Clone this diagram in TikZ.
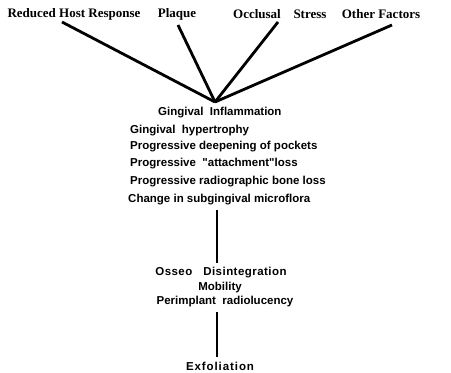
\documentclass[tikz,border=0pt]{standalone}
\usepackage{fontspec}
\setmainfont{Liberation Serif}
\newfontfamily\bodyfont{Liberation Sans}

\begin{document}
\begin{tikzpicture}[x=1pt,y=-1pt,
  cause/.style={font=\bfseries\fontsize{13}{15}\selectfont,inner sep=0pt},
  stage/.style={font=\bodyfont\bfseries\fontsize{11.5}{13}\selectfont,inner sep=0pt},
  item/.style={stage,anchor=west},
  spoke/.style={line width=2.8pt},
  stem/.style={line width=2.4pt}]
\useasboundingbox (0,0) rectangle (451,373);
% factors along the top
\node [cause] (host) at(74,14){Reduced Host Response};
\node [cause] (plaque) at(177,14){Plaque};
\node [cause] (occlusal) at(257,14){Occlusal};
\node [cause] (stress) at(310,14){Stress};
\node [cause] (other) at(381,14){Other Factors};
\coordinate (hostend) at(62,22);
\coordinate (plaqueend) at(178,25);
\coordinate (occlusalend) at(278,22);
\coordinate (otherend) at(392,25);
\coordinate (hub) at(215,102);
\draw[spoke](hostend)--(hub);
\draw[spoke](plaqueend)--(hub);
\draw[spoke](occlusalend)--(hub);
\draw[spoke](otherend)--(hub);
% signs
\node [item] (inflam) at(158,113){Gingival\ \ Inflammation};
\node [item] (hyper) at(130,131){Gingival\ \ hypertrophy};
\node [item] (pockets) at(130,147){Progressive deepening of pockets};
\node [item] (attach) at(130,164){Progressive\ \ "attachment"loss};
\node [item] (bone) at(130,182){Progressive radiographic bone loss};
\node [item] (flora) at(128,200){Change in subgingival microflora};
% later stages
\node [stage] (osseo) at(221,273){\addfontfeature{LetterSpace=4}Osseo\ \ \ Disintegration};
\node [stage] (mobility) at(220,288){Mobility};
\node [stage] (peri) at(225,302){Perimplant\ \ radiolucency};
\node [stage] (exfol) at(220,366){\addfontfeature{LetterSpace=8}Exfoliation};
\coordinate (stemA) at(217,210);
\coordinate (stemB) at(217,263);
\coordinate (stemC) at(217,312);
\coordinate (stemD) at(217,357);
\draw[stem](stemA)--(stemB);
\draw[stem](stemC)--(stemD);
\end{tikzpicture}
\end{document}
